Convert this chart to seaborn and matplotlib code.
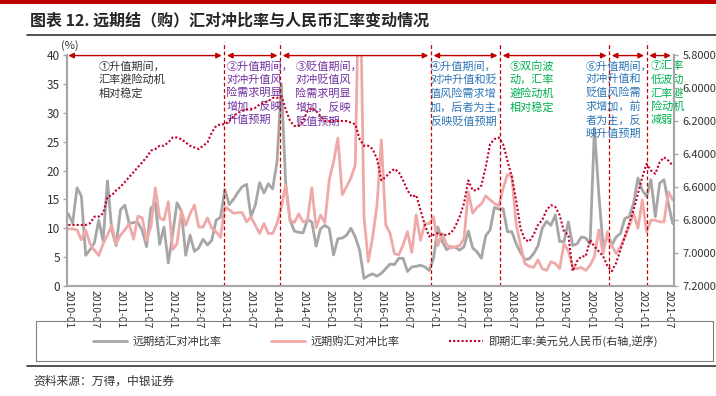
import matplotlib
matplotlib.use("Agg")
import matplotlib.pyplot as plt
import seaborn as sns
import pandas as pd
from matplotlib.patches import Rectangle
from matplotlib.lines import Line2D

# monthly data, 2010-01 .. 2021-08
months = pd.date_range("2010-01-01", periods=140, freq="MS").strftime("%Y-%m").tolist()

settle_ratio = [
    12.5, 10.9, 17.0, 15.6, 5.3, 6.3, 7.5, 11.4, 7.8, 18.2,
    9.7, 7.0, 13.2, 14.0, 10.8, 11.0, 11.0, 9.6, 6.8, 13.4,
    14.4, 7.2, 10.2, 4.0, 9.0, 14.4, 13.0, 5.3, 8.8, 6.0,
    6.6, 8.1, 7.1, 7.9, 11.4, 11.9, 16.7, 14.1, 15.0, 16.2,
    17.2, 17.6, 12.0, 14.0, 17.9, 16.1, 17.7, 16.8, 21.5, 35.0,
    17.5, 11.4, 9.5, 9.3, 9.2, 11.5, 11.1, 6.9, 9.9, 10.5,
    10.0, 5.4, 8.2, 8.3, 8.8, 10.0, 8.5, 6.2, 1.3, 1.8,
    2.1, 1.7, 2.2, 3.0, 3.8, 3.7, 4.8, 4.8, 2.5, 3.3,
    3.4, 3.6, 3.3, 2.7, 4.8, 10.2, 7.7, 6.3, 6.8, 6.7,
    6.2, 6.8, 9.5, 6.6, 5.9, 4.8, 8.7, 9.7, 13.6, 13.3,
    13.4, 9.4, 9.4, 7.3, 5.8, 4.6, 4.7, 5.6, 6.9, 10.0,
    11.2, 10.5, 12.3, 7.7, 7.7, 11.1, 7.0, 7.3, 8.5, 8.3,
    7.3, 27.3, 16.0, 6.8, 8.5, 7.1, 8.5, 9.1, 11.7, 12.0,
    14.3, 18.7, 16.6, 15.5, 18.4, 12.0, 17.8, 18.4, 14.3, 10.8,
]

purchase_ratio = [
    9.9, 9.9, 9.7, 8.0, 9.7, 7.3, 6.2, 5.3, 7.3, 8.8,
    10.5, 7.3, 8.8, 9.7, 10.8, 8.1, 12.1, 11.8, 7.9, 10.3,
    17.0, 11.8, 11.4, 14.6, 6.3, 7.3, 13.0, 10.5, 12.5, 14.0,
    10.2, 10.2, 11.8, 10.0, 9.4, 8.4, 13.7, 13.2, 12.6, 12.7,
    12.7, 11.1, 12.0, 10.5, 9.1, 10.8, 9.1, 9.1, 10.8, 13.7,
    17.5, 11.4, 11.0, 12.5, 11.1, 11.4, 17.0, 10.1, 12.3, 11.0,
    18.3, 21.5, 25.6, 15.8, 17.2, 18.7, 21.0, 60.0, 12.0, 4.2,
    8.5, 14.0, 25.3, 10.6, 9.1, 5.6, 5.4, 7.1, 9.4, 5.8,
    12.3, 7.9, 10.8, 10.8, 12.0, 7.0, 9.1, 7.2, 6.6, 6.8,
    7.0, 8.2, 16.3, 12.6, 13.6, 14.2, 15.6, 14.9, 14.3, 13.9,
    16.9, 19.3, 19.1, 10.7, 7.1, 3.9, 3.4, 3.2, 4.5, 3.0,
    2.7, 4.2, 3.9, 3.0, 7.4, 6.0, 3.3, 3.0, 3.2, 2.7,
    3.6, 5.1, 9.7, 5.6, 9.4, 7.0, 5.6, 6.8, 8.5, 10.3,
    12.6, 10.0, 14.9, 9.4, 11.4, 11.4, 11.1, 11.1, 16.3, 14.9,
]

usdcny = [
    6.83, 6.83, 6.83, 6.83, 6.83, 6.82, 6.78, 6.78, 6.76, 6.66,
    6.65, 6.62, 6.60, 6.57, 6.54, 6.51, 6.48, 6.45, 6.42, 6.38,
    6.37, 6.35, 6.35, 6.33, 6.30, 6.30, 6.31, 6.33, 6.35, 6.36,
    6.37, 6.35, 6.33, 6.27, 6.23, 6.22, 6.22, 6.20, 6.17, 6.15,
    6.14, 6.13, 6.13, 6.12, 6.10, 6.09, 6.08, 6.06, 6.06, 6.05,
    6.13, 6.20, 6.23, 6.23, 6.20, 6.14, 6.12, 6.14, 6.17, 6.20,
    6.20, 6.20, 6.20, 6.20, 6.20, 6.21, 6.22, 6.31, 6.35, 6.35,
    6.37, 6.43, 6.56, 6.54, 6.51, 6.49, 6.51, 6.56, 6.62, 6.66,
    6.65, 6.74, 6.83, 6.90, 6.89, 6.88, 6.89, 6.89, 6.88, 6.84,
    6.78, 6.70, 6.56, 6.62, 6.62, 6.59, 6.48, 6.34, 6.31, 6.30,
    6.34, 6.44, 6.54, 6.68, 6.85, 6.92, 6.93, 6.89, 6.83, 6.80,
    6.74, 6.71, 6.72, 6.77, 6.87, 6.89, 7.11, 7.05, 7.02, 7.02,
    6.92, 6.96, 6.99, 7.02, 7.08, 7.11, 7.06, 6.98, 6.90, 6.82,
    6.74, 6.64, 6.54, 6.46, 6.50, 6.52, 6.45, 6.42, 6.44, 6.47,
]

series_labels = ["远期结汇对冲比率", "远期购汇对冲比率", "即期汇率:美元兑人民币(右轴,逆序)"]
rate_ticks = [5.8, 6.0, 6.2, 6.4, 6.6, 6.8, 7.0, 7.2]

# period boundaries (month offsets from 2010-01)
period_edges = [35.9, 48.7, 83.4, 99.3, 124.4, 133.0]

notes = [
    "①升值期间，\n汇率避险动机\n相对稳定",
    "②升值期间，\n对冲升值风\n险需求明显\n增加，反映\n升值预期",
    "③贬值期间，\n对冲贬值风\n险需求明显\n增加，反映\n贬值预期",
    "④升值期间，\n对冲升值和贬\n值风险需求增\n加，后者为主，\n反映贬值预期",
    "⑤双向波\n动，汇率\n避险动机\n相对稳定",
    "⑥升值期间，\n对冲升值和\n贬值风险需\n求增加，前\n者为主，反\n映升值预期",
    "⑦汇率\n低波动\n汇率避\n险动机\n减弱",
]
note_x = [6.9, 36.3, 52.2, 83.2, 101.4, 118.9, 134.0]
note_colors = ["#333333", "#7030A0", "#7030A0", "#2E75B6", "#00B050", "#2E75B6", "#00B050"]

sns.set_style("white")
plt.rcParams["font.family"] = ["Noto Sans CJK SC", "DejaVu Sans"]
plt.rcParams["axes.unicode_minus"] = False

df = pd.DataFrame({"idx": range(len(months)), "settle": settle_ratio,
                   "purchase": purchase_ratio, "rate": usdcny})

W, H = 716, 396
fig = plt.figure(figsize=(W / 100, H / 100), dpi=100)
ax = fig.add_axes([67 / W, 1 - 286 / H, (674 - 67) / W, (286 - 55) / H])

sns.lineplot(data=df, x="idx", y="settle", ax=ax, color="#A6A6A6", lw=2)
sns.lineplot(data=df, x="idx", y="purchase", ax=ax, color="#EFA9A9", lw=2)
ax2 = ax.twinx()
sns.lineplot(data=df, x="idx", y="rate", ax=ax2, color="#C0002A", lw=1.5,
             linestyle=(0, (1, 1)))
handles = [ax.lines[0], ax.lines[1], ax2.lines[0]]

ax.set_xlim(-0.3, 139.3)
ax.set_ylim(0, 40)
ax2.set_ylim(7.2, 5.8)
ax.set_xlabel("")
ax.set_ylabel("")
ax2.set_ylabel("")

tick_idx = list(range(0, len(months), 6))
ax.set_xticks(tick_idx)
ax.set_xticklabels([months[i] for i in tick_idx], rotation=-90, fontsize=7.5, color="#333333")
ax.set_yticks(range(0, 41, 5))
ax2.set_yticks(rate_ticks)
ax2.set_yticklabels([f"{v:.4f}" for v in rate_ticks])
ax.tick_params(axis="x", length=0, pad=3)
ax.tick_params(axis="y", length=3, width=1, color="#A6A6A6", labelsize=8.5, labelcolor="#333333", pad=2)
ax2.tick_params(axis="y", length=3, width=1, color="#A6A6A6", labelsize=8, labelcolor="#333333", pad=3)

for a in (ax, ax2):
    a.spines["top"].set_visible(False)
    for s in ("left", "right", "bottom"):
        a.spines[s].set_color("#A6A6A6")
        a.spines[s].set_linewidth(1.5)

# period separators and arrows
red = "#C00000"
ax.vlines(period_edges, 0, 42.2, colors=red, linestyles=(0, (3, 2)), lw=0.9, clip_on=False)
starts = [0] + [e + 0.6 for e in period_edges]
ends = [e - 0.6 for e in period_edges] + [138.6]
for x0, x1 in zip(starts, ends):
    ax.annotate("", xy=(x1, 39.9), xytext=(x0, 39.9), annotation_clip=False,
                arrowprops=dict(arrowstyle="<|-|>", color=red, lw=1,
                                mutation_scale=8, shrinkA=0, shrinkB=0))

for txt, x, c in zip(notes, note_x, note_colors):
    ax.text(x, 39.0, txt, ha="left", va="top", fontsize=8, color=c, linespacing=1.35)

fig.text(70 / W, 1 - 46 / H, "(%)", fontsize=8, color="#333333", ha="center", va="center")

# header
fig.add_artist(Rectangle((0, 1 - 4 / H), 1, 4 / H, transform=fig.transFigure, color="#C00000", lw=0))
fig.text(30 / W, 1 - 20 / H, "图表 12. 远期结（购）汇对冲比率与人民币汇率变动情况",
         fontsize=11.5, fontweight="bold", va="center", ha="left")
fig.add_artist(Line2D([27 / W, 1], [1 - 35 / H] * 2, color="#333333", lw=1.2))

# legend box
fig.add_artist(Rectangle((36 / W, 1 - 361 / H), (713 - 36) / W, 40 / H, transform=fig.transFigure,
                         fill=False, ec="#808080", lw=0.8))
fig.legend(handles, series_labels, loc="center", bbox_to_anchor=(375.5 / W, 1 - 341 / H),
           ncol=3, frameon=False, fontsize=8, handlelength=3, handletextpad=0.5,
           columnspacing=4.5, labelcolor="#333333")

fig.add_artist(Line2D([27 / W, 1], [1 - 366 / H] * 2, color="#333333", lw=1.2))
fig.text(33 / W, 1 - 381 / H, "资料来源：万得，中银证券", fontsize=8.5, style="italic",
         va="center", ha="left", color="#333333")

fig.savefig("out.png", dpi=100)
